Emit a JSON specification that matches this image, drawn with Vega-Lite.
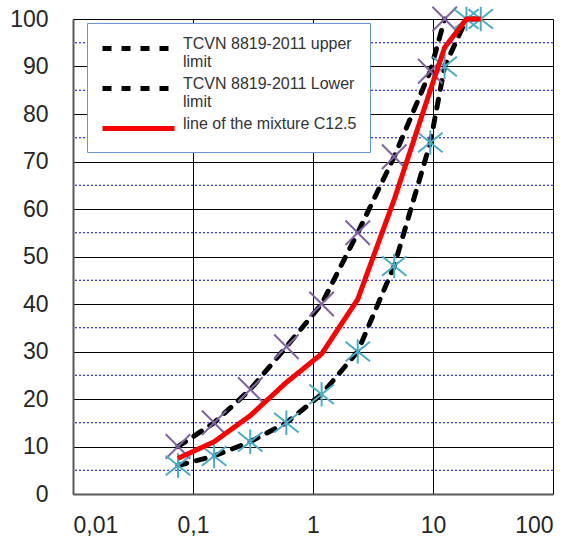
{
  "$schema": "https://vega.github.io/schema/vega-lite/v6.json",
  "width": 480,
  "height": 475,
  "autosize": {"type": "none"},
  "padding": {"left": 73, "top": 19, "right": 20, "bottom": 48},
  "background": "white",
  "config": {
    "view": {"stroke": null},
    "font": "Liberation Sans",
    "axis": {
      "title": null,
      "grid": true,
      "gridColor": "#000000",
      "gridWidth": 1,
      "ticks": false,
      "tickSize": 0,
      "domainColor": "#595959",
      "domainWidth": 2,
      "labelFont": "Liberation Sans",
      "labelFontSize": 23,
      "labelColor": "#262626"
    },
    "legend": {
      "orient": "none", "legendX": 14, "legendY": 4, "title": null,
      "fillColor": "white", "strokeColor": "#6a96cf", "padding": 13,
      "symbolType": "M-1,0H6.2", "symbolSize": 400,
      "labelFontSize": 16, "labelFont": "Liberation Sans", "labelColor": "#333333",
      "labelBaseline": "alphabetic",
      "labelLimit": 400, "labelOffset": 58, "rowPadding": 5
    }
  },
  "datasets": {
    "curves": [
      {"series": "TCVN 8819-2011 upper limit", "size": 0.075, "pass": 10},
      {"series": "TCVN 8819-2011 upper limit", "size": 0.15, "pass": 15},
      {"series": "TCVN 8819-2011 upper limit", "size": 0.3, "pass": 22},
      {"series": "TCVN 8819-2011 upper limit", "size": 0.6, "pass": 31},
      {"series": "TCVN 8819-2011 upper limit", "size": 1.18, "pass": 40},
      {"series": "TCVN 8819-2011 upper limit", "size": 2.36, "pass": 55},
      {"series": "TCVN 8819-2011 upper limit", "size": 4.75, "pass": 71},
      {"series": "TCVN 8819-2011 upper limit", "size": 9.5, "pass": 89},
      {"series": "TCVN 8819-2011 upper limit", "size": 12.5, "pass": 100},
      {"series": "TCVN 8819-2011 Lower limit", "size": 0.075, "pass": 6},
      {"series": "TCVN 8819-2011 Lower limit", "size": 0.15, "pass": 8},
      {"series": "TCVN 8819-2011 Lower limit", "size": 0.3, "pass": 11},
      {"series": "TCVN 8819-2011 Lower limit", "size": 0.6, "pass": 15},
      {"series": "TCVN 8819-2011 Lower limit", "size": 1.18, "pass": 21},
      {"series": "TCVN 8819-2011 Lower limit", "size": 2.36, "pass": 30},
      {"series": "TCVN 8819-2011 Lower limit", "size": 4.75, "pass": 48},
      {"series": "TCVN 8819-2011 Lower limit", "size": 9.5, "pass": 74},
      {"series": "TCVN 8819-2011 Lower limit", "size": 12.5, "pass": 90},
      {"series": "TCVN 8819-2011 Lower limit", "size": 19, "pass": 100},
      {"series": "TCVN 8819-2011 Lower limit", "size": 25, "pass": 100},
      {"series": "line of the mixture C12.5", "size": 0.075, "pass": 7.5},
      {"series": "line of the mixture C12.5", "size": 0.15, "pass": 11},
      {"series": "line of the mixture C12.5", "size": 0.3, "pass": 16.5},
      {"series": "line of the mixture C12.5", "size": 0.6, "pass": 23.5},
      {"series": "line of the mixture C12.5", "size": 1.18, "pass": 29.5},
      {"series": "line of the mixture C12.5", "size": 2.36, "pass": 41},
      {"series": "line of the mixture C12.5", "size": 4.75, "pass": 62},
      {"series": "line of the mixture C12.5", "size": 9.5, "pass": 85},
      {"series": "line of the mixture C12.5", "size": 12.5, "pass": 94},
      {"series": "line of the mixture C12.5", "size": 19, "pass": 100},
      {"series": "line of the mixture C12.5", "size": 25, "pass": 100}
    ],
    "minor": [
      {"v": 5}, {"v": 15}, {"v": 25}, {"v": 35}, {"v": 45},
      {"v": 55}, {"v": 65}, {"v": 75}, {"v": 85}, {"v": 95}
    ]
  },
  "layer": [
    {
      "data": {"name": "minor"},
      "mark": {"type": "rule", "color": "#0000ff", "strokeDash": [2, 2], "strokeWidth": 1},
      "encoding": {
        "y": {"field": "v", "type": "quantitative", "scale": {"domain": [0, 100], "nice": false},
          "axis": {"values": [0, 10, 20, 30, 40, 50, 60, 70, 80, 90, 100], "labelPadding": 25}}
      }
    },
    {
      "data": {"name": "curves"},
      "transform": [{"filter": "datum.series != 'line of the mixture C12.5'"}],
      "mark": {"type": "line", "strokeCap": "round", "strokeJoin": "round"},
      "encoding": {
        "x": {"field": "size", "type": "quantitative",
          "scale": {"type": "log", "domain": [0.01, 100], "nice": false},
          "axis": {"values": [0.01, 0.1, 1, 10, 100], "labelExpr": "replace(toString(datum.value), '.', ',')", "labelPadding": 20}},
        "y": {"field": "pass", "type": "quantitative", "scale": {"domain": [0, 100], "nice": false},
          "axis": {"values": [0, 10, 20, 30, 40, 50, 60, 70, 80, 90, 100], "labelPadding": 25}},
        "color": {"field": "series", "type": "nominal",
          "scale": {"domain": ["TCVN 8819-2011 upper limit", "TCVN 8819-2011 Lower limit", "line of the mixture C12.5"], "range": ["#000000", "#000000", "#ff0000"]},
          "legend": {"labelExpr": "datum.label == 'TCVN 8819-2011 upper limit' ? ['TCVN 8819-2011 upper', 'limit'] : datum.label == 'TCVN 8819-2011 Lower limit' ? ['TCVN 8819-2011 Lower', 'limit'] : datum.label"}},
        "strokeDash": {"field": "series", "type": "nominal",
          "scale": {"domain": ["TCVN 8819-2011 upper limit", "TCVN 8819-2011 Lower limit", "line of the mixture C12.5"], "range": [[9, 10], [9, 10], [1, 0]]},
          "legend": {"labelExpr": "datum.label == 'TCVN 8819-2011 upper limit' ? ['TCVN 8819-2011 upper', 'limit'] : datum.label == 'TCVN 8819-2011 Lower limit' ? ['TCVN 8819-2011 Lower', 'limit'] : datum.label"}},
        "strokeWidth": {"field": "series", "type": "nominal",
          "scale": {"domain": ["TCVN 8819-2011 upper limit", "TCVN 8819-2011 Lower limit", "line of the mixture C12.5"], "range": [5, 5, 7.5]},
          "legend": {"labelExpr": "datum.label == 'TCVN 8819-2011 upper limit' ? ['TCVN 8819-2011 upper', 'limit'] : datum.label == 'TCVN 8819-2011 Lower limit' ? ['TCVN 8819-2011 Lower', 'limit'] : datum.label"}}
      }
    },
    {
      "data": {"name": "curves"},
      "transform": [{"filter": "datum.series != 'line of the mixture C12.5'"}],
      "mark": {"type": "point", "filled": false, "strokeWidth": 2, "opacity": 1, "size": 600},
      "encoding": {
        "x": {"field": "size", "type": "quantitative", "scale": {"type": "log", "domain": [0.01, 100], "nice": false}},
        "y": {"field": "pass", "type": "quantitative", "scale": {"domain": [0, 100], "nice": false}},
        "stroke": {"field": "series", "type": "nominal",
          "scale": {"domain": ["TCVN 8819-2011 upper limit", "TCVN 8819-2011 Lower limit"], "range": ["#8064a2", "#4bacc6"]},
          "legend": null},
        "shape": {"field": "series", "type": "nominal",
          "scale": {"domain": ["TCVN 8819-2011 upper limit", "TCVN 8819-2011 Lower limit"], "range": ["M-1,-1L1,1M-1,1L1,-1", "M-1,-0.8L1,0.8M-1,0.8L1,-0.8M0,-1L0,1"]},
          "legend": null}
      }
    },
    {
      "data": {"name": "curves"},
      "transform": [{"filter": "datum.series == 'line of the mixture C12.5'"}],
      "mark": {"type": "line", "strokeJoin": "round"},
      "encoding": {
        "x": {"field": "size", "type": "quantitative", "scale": {"type": "log", "domain": [0.01, 100], "nice": false}},
        "y": {"field": "pass", "type": "quantitative", "scale": {"domain": [0, 100], "nice": false}},
        "color": {"field": "series", "type": "nominal"},
        "strokeDash": {"field": "series", "type": "nominal"},
        "strokeWidth": {"field": "series", "type": "nominal"}
      }
    }
  ]
}
